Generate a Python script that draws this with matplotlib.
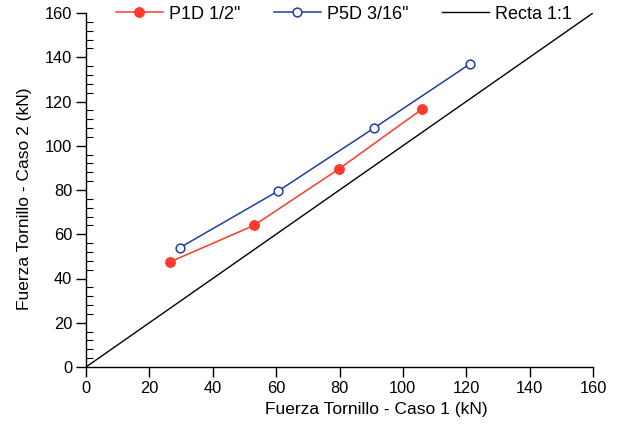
import matplotlib.pyplot as plt
from matplotlib.ticker import MultipleLocator

plt.rcParams['font.family'] = ['Liberation Sans', 'DejaVu Sans']

# Datos
p1d_x = [26.5, 53.0, 79.8, 106.0]
p1d_y = [47.5, 64.0, 89.5, 116.5]
p5d_x = [29.7, 60.6, 90.9, 121.2]
p5d_y = [54.0, 79.5, 108.0, 137.0]
recta = [0, 160]

fig = plt.figure(figsize=(6.17, 4.26), dpi=100)
ax = fig.add_axes([86/617, 1 - 367/426, 507/617, 354/426])

rojo = '#ff3a2c'
azul = '#1c3fa0'

ax.plot(p1d_x, p1d_y, color=rojo, lw=1.1, marker='o', ms=6.8,
        mfc=rojo, mec=rojo, label='P1D 1/2"', clip_on=False)
ax.plot(p5d_x, p5d_y, color=azul, lw=1.1, marker='o', ms=6.3,
        mfc='white', mec=azul, mew=1.1, label='P5D 3/16"', clip_on=False)
ax.plot(recta, recta, color='black', lw=1.0, label='Recta 1:1')

ax.set_xlim(0, 160)
ax.set_ylim(0, 160)
ax.xaxis.set_major_locator(MultipleLocator(20))
ax.yaxis.set_major_locator(MultipleLocator(20))
ax.yaxis.set_minor_locator(MultipleLocator(4))

for s in ['top', 'right']:
    ax.spines[s].set_visible(False)
for s in ['left', 'bottom']:
    ax.spines[s].set_linewidth(1.0)

ax.tick_params(axis='both', which='major', direction='out', length=7,
               width=1.0, labelsize=11.8, pad=3)
ax.tick_params(axis='y', which='minor', direction='in', length=5, width=0.8)

ax.set_xlabel('Fuerza Tornillo - Caso 1 (kN)', fontsize=12.5)
ax.set_ylabel('Fuerza Tornillo - Caso 2 (kN)', fontsize=12.5)
ax.xaxis.set_label_coords(0.572, -0.1)
ax.yaxis.set_label_coords(-0.107, 0.474)

leg = ax.legend(loc='center', bbox_to_anchor=(0.509, 0.997), ncol=3,
                frameon=False, fontsize=13, handlelength=2.6,
                columnspacing=1.85, handletextpad=0.35, borderaxespad=0)

fig.savefig('out.png', dpi=100)
